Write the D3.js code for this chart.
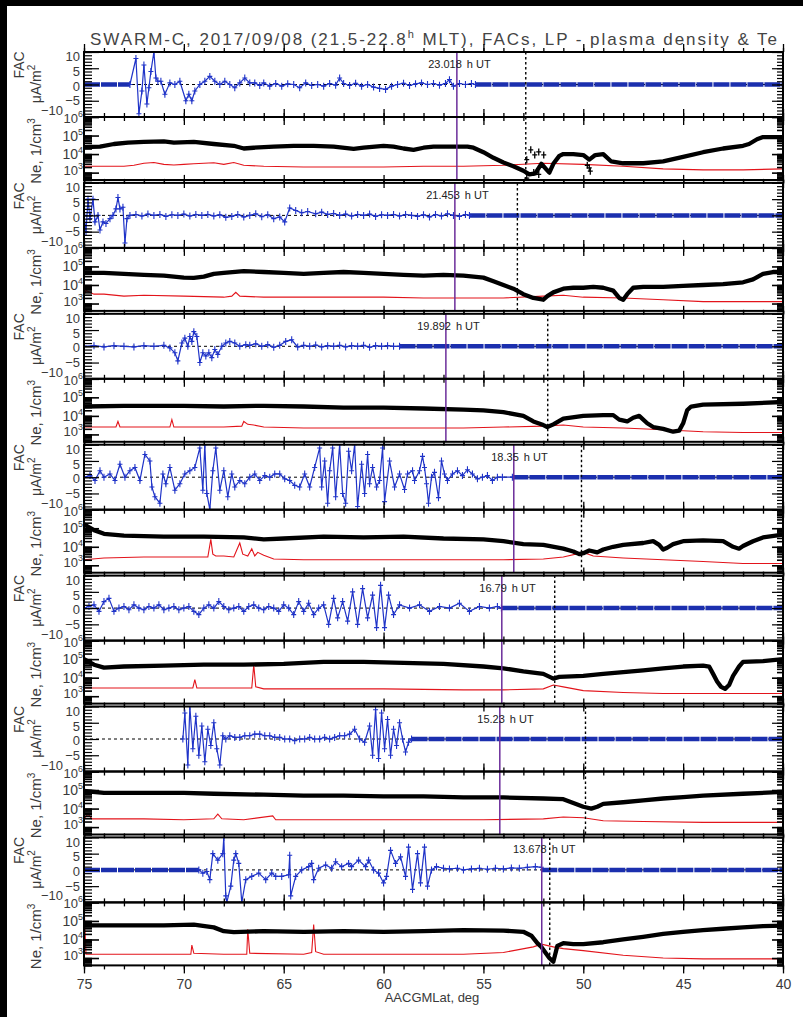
<!DOCTYPE html>
<html><head><meta charset="utf-8">
<script src="https://cdn.jsdelivr.net/npm/d3@7"></script>
<style>body{margin:0;background:#fff}svg{display:block}</style>
</head><body>
<svg id="c" width="803" height="1017"></svg>
<script>
// ---------- data ----------
const utLabels = ["23.018","21.453","19.892","18.35","16.79","15.23","13.678"];
const purpleLat = [56.33,56.43,56.88,53.48,54.08,54.18,52.08];
const dottedLat = [52.88,53.3,51.78,50.09,51.43,49.89,51.68];
const latTicks = [75,70,65,60,55,50,45,40];
const facTickLabels = [10,5,0,-5,-10];
const neTickLabels = [1e3,1e4,1e5,1e6];

const fac1 = [[72.7,0],[72.4,8],[72.25,-9],[72.1,-2],[72.0,6],[71.85,-6],[71.75,-1],[71.65,4],[71.5,10],[71.4,2],[71.3,1],[71.15,1],[70.95,-3],[70.7,0.5],[70.45,0],[70.2,1],[69.9,-5],[69.75,-3],[69.6,-5],[69.45,-2],[69.2,0],[68.95,1],[68.7,2.5],[68.45,1],[68.2,0],[67.95,1],[67.7,0],[67.45,-1],[67.2,0.5],[66.95,2],[66.7,0.5],[66.45,0.5],[66.2,-0.3],[66,0.5],[65.7,-0.5],[65.4,0.3],[65.1,-0.5],[64.8,0.2],[64.5,0],[64.2,-1],[63.9,0.5],[63.6,-0.3],[63.3,0],[63,-0.5],[62.7,0.3],[62.4,-0.2],[62.2,2],[62,0.3],[61.7,-0.3],[61.4,0.4],[61.1,-0.5],[60.8,0],[60.5,-0.8],[60.2,-1.2],[59.9,-1.5],[59.6,-0.5],[59.3,0],[59,0.4],[58.7,-0.3],[58.4,0.2],[58.1,0.5],[57.8,0],[57.5,0.3],[57.2,-0.2],[56.9,0.3],[56.7,1.5],[56.5,-0.5],[56.2,0.3],[55.9,0],[55.6,0.3],[55.4,0]];
const fac2 = [[75,0],[74.9,-5],[74.8,5],[74.7,-1],[74.55,5],[74.45,-2],[74.3,0],[74.2,-4.5],[74.05,-2],[73.9,-2.5],[73.7,-1],[73.55,0],[73.4,2],[73.3,5.5],[73.2,2],[73.05,2.5],[72.95,-8.5],[72.85,-1],[72.7,0],[72.4,0.3],[72.1,-0.2],[71.8,0.4],[71.5,0],[71.2,0.3],[70.9,-0.3],[70.6,0.2],[70.3,0],[70,0.4],[69.7,-0.2],[69.4,0.3],[69.1,0],[68.8,0.3],[68.5,-0.2],[68.2,0.2],[67.9,-0.6],[67.6,-0.3],[67.3,0.3],[67,-0.5],[66.7,0],[66.4,0.5],[66.1,-0.4],[65.8,0.2],[65.5,-1],[65.2,-0.5],[64.95,-2],[64.7,2.3],[64.4,1.5],[64.1,0.8],[63.8,1.2],[63.4,0.5],[63.1,1],[62.8,0.3],[62.5,0.6],[62.2,0],[61.9,0.4],[61.6,-0.2],[61.3,0.3],[61,0],[60.7,0.4],[60.4,-0.3],[60.1,0.2],[59.8,0],[59.5,0.3],[59.2,-0.2],[58.9,0.3],[58.6,0],[58.3,-0.3],[58,0.2],[57.7,-0.5],[57.4,0.3],[57.1,-0.2],[56.8,0.5],[56.5,0],[56.2,-0.3],[55.9,0.3],[55.7,0]];
const fac3 = [[75,0],[74.5,0.2],[74,-0.2],[73.5,0.2],[73,0],[72.5,-0.2],[72,0.2],[71.5,0],[71,0.3],[70.7,-0.5],[70.45,-2],[70.3,-4.5],[70.1,1],[69.95,2.5],[69.8,0],[69.7,3],[69.6,1.5],[69.5,4.5],[69.35,3],[69.2,-5],[69.05,-2],[68.9,-3],[68.75,-2],[68.6,-3.5],[68.45,-1],[68.3,-2.5],[68.1,0],[67.9,1],[67.7,1.5],[67.45,1],[67.2,0],[66.9,0.5],[66.7,0.3],[66.4,0.8],[66.1,0],[65.8,0.5],[65.5,-0.3],[65.2,0.3],[64.9,1.5],[64.6,2],[64.3,-0.2],[64,0.3],[63.7,0],[63.4,0.4],[63.1,-0.2],[62.8,0.2],[62.5,0],[62.2,0.3],[61.9,-0.2],[61.6,0.2],[61.3,0],[61,0.3],[60.7,-0.3],[60.4,0.2],[60.1,0],[59.8,0.2],[59.5,0],[59.2,0]];
const fac4 = [[75,0],[74.7,0.5],[74.45,-1],[74.2,2],[74.0,0],[73.7,1],[73.45,-1],[73.2,4],[72.95,0],[72.7,2],[72.45,3],[72.2,-1],[71.95,7],[71.7,5],[71.6,-3],[71.45,-6],[71.2,-8],[71.05,1],[70.9,-2],[70.7,3],[70.45,-4],[70.2,-2],[69.95,1],[69.7,2],[69.45,3],[69.2,9],[69.05,-4],[68.95,10],[68.85,-5],[68.7,-10],[68.55,2],[68.4,9],[68.2,-4],[68.0,2],[67.8,-6],[67.6,1],[67.45,-3],[67.2,-1],[66.95,-2],[66.7,0],[66.45,1],[66.2,-1],[65.95,0.5],[65.7,0],[65.45,1],[65.2,1],[64.95,-0.5],[64.7,-1],[64.45,-2.5],[64.2,-3],[63.95,1],[63.7,-3],[63.45,3],[63.2,9],[63.1,-3],[62.95,5],[62.8,-8],[62.7,2],[62.55,9],[62.4,-6],[62.2,10],[62.05,-5],[61.9,-8],[61.75,8],[61.6,2],[61.45,10],[61.3,-9],[61.1,4],[60.95,-5],[60.8,7],[60.7,-2],[60.55,3],[60.35,-3],[60.2,-1],[60.05,9],[59.95,-7.5],[59.7,5],[59.45,-3],[59.2,1],[58.95,-3.8],[58.8,1],[58.55,2],[58.45,-1],[58.2,2],[58.05,6.4],[57.95,3],[57.85,-2],[57.75,-8],[57.6,0],[57.45,1.5],[57.25,-6.3],[57.1,5],[56.95,1],[56.8,-1],[56.55,1],[56.3,2],[56.05,0.5],[55.8,2.3],[55.55,1],[55.3,-0.5],[55.05,0],[54.8,0.5],[54.55,-1],[54.3,0],[54.05,0],[53.55,0]];
const fac5 = [[75,0],[74.75,0.5],[74.5,1],[74.25,-1],[74,2],[73.75,3],[73.5,-1],[73.25,0],[73,0.5],[72.75,-0.5],[72.5,1],[72.25,0],[72,-0.5],[71.75,0.5],[71.5,0],[71.25,1],[71,-0.5],[70.75,0],[70.5,0.5],[70.25,-0.5],[70,0],[69.75,0.5],[69.5,-1],[69.25,-2],[69,0],[68.75,1],[68.5,0],[68.25,2],[68,0.5],[67.75,-0.5],[67.5,0],[67.25,0.5],[67,-1],[66.75,0.5],[66.5,1],[66.25,0],[66,-0.5],[65.75,0.5],[65.5,0],[65.25,-1],[65,1],[64.75,0],[64.5,-2],[64.25,2],[64,-1],[63.75,1.5],[63.5,-2],[63.25,0],[63,1],[62.75,-5],[62.5,3],[62.3,-3],[62.05,2],[61.8,-4],[61.55,5],[61.3,-5],[61.05,6],[60.8,-3],[60.55,4],[60.35,-6],[60.15,7],[59.95,-6],[59.75,4],[59.5,-2],[59.2,1],[58.7,0],[58.2,1],[57.7,-1],[57.2,0.5],[56.7,0],[56.2,1.5],[55.7,-1],[55.2,0.5],[54.7,0],[54.3,0.5],[54.1,0]];
const fac6 = [[70.05,0],[69.95,8],[69.8,-8],[69.7,10],[69.55,-3],[69.4,7],[69.25,-5],[69.1,4],[68.95,-7],[68.8,3],[68.65,-2],[68.5,5],[68.35,-3],[68.2,-8],[68.05,1],[67.9,0],[67.7,1],[67.45,0.5],[67.2,0.5],[66.95,1],[66.7,1],[66.45,1.5],[66.2,1.5],[65.95,1],[65.7,1],[65.45,0.5],[65.2,0.5],[64.95,0],[64.7,0],[64.45,-0.5],[64.2,0],[63.95,0],[63.7,0.5],[63.45,0],[63.2,0],[62.95,0.5],[62.7,0],[62.45,0.5],[62.2,1],[61.95,1],[61.7,1.5],[61.45,3],[61.2,0],[60.95,-1],[60.7,4],[60.55,-5],[60.4,9],[60.25,-6],[60.1,8],[59.95,-3],[59.8,6],[59.65,-5],[59.5,3],[59.35,-2],[59.2,5],[59.05,0],[58.9,-4],[58.75,-1],[58.6,0]];
const fac7 = [[69.25,0],[69.05,-1],[68.85,-0.5],[68.7,-3],[68.55,5],[68.3,3],[68.05,5],[68.0,10],[67.9,-8],[67.85,-10],[67.65,-5],[67.5,3],[67.4,5],[67.25,2],[67.1,-10],[66.9,-3],[66.6,-2],[66.25,-1],[65.9,-3],[65.6,-1],[65.4,-2],[65.1,-2],[64.75,-1.5],[64.7,4.5],[64.65,-8],[64.4,-2],[64.1,0],[63.75,1],[63.6,2],[63.5,-3],[63.25,0.5],[62.9,1.5],[62.6,0.5],[62.4,2.5],[62.1,1],[61.75,2],[61.6,1],[61.25,3],[60.9,1],[60.75,3],[60.5,0],[60.25,-1],[60.0,-4],[59.85,-2],[59.65,6],[59.4,2],[59.15,4],[58.9,-2],[58.75,7],[58.55,-6],[58.3,5],[58.15,-4],[57.95,7],[57.8,-5],[57.6,0],[57.35,1],[57,0.5],[56.7,0.3],[56.3,0.5],[56,0],[55.6,0.3],[55.2,0.5],[54.8,0.2],[54.4,0.5],[54,0.3],[53.6,0.6],[53.2,0.5],[52.8,0.8],[52.4,1],[52.1,0.8]];

// latitude spans where FAC is flat zero (dense blue band)
const zero1 = [[75,72.7],[55.4,40]];
const zero2 = [[55.7,40]];
const zero3 = [[59.2,40]];
const zero4 = [[53.55,40]];
const zero5 = [[54.1,40]];
const zero6 = [[58.6,40]];
const zero7 = [[75,69.25],[52.1,40]];

const ne1 = [[75,2.4e4],[74.2,2.5e4],[73.5,3.5e4],[72.8,4.2e4],[72,4.6e4],[71,4.8e4],[70.5,4.2e4],[69.5,4.5e4],[68.5,3.5e4],[67.5,2.8e4],[67,2.0e4],[66.5,2.2e4],[65.5,2.5e4],[64.5,2.8e4],[63.5,2.8e4],[62.5,2.5e4],[61.5,1.9e4],[61,2.2e4],[60,2.8e4],[59.5,2.5e4],[59,2.0e4],[58.5,1.7e4],[58,2.2e4],[57.5,2.5e4],[56.5,2.5e4],[55.8,2.5e4],[55.5,2.2e4],[55,1.26e4],[54.5,6300],[54,3500],[53.5,2200],[53,1260],[52.7,800],[52.4,900],[52.1,3000],[51.85,1500],[51.7,1000],[51.5,3000],[51.2,8000],[51,1.0e4],[50.5,1.0e4],[50,8900],[49.7,5000],[49.4,8900],[49,1.0e4],[48.6,4000],[48,3200],[47,3200],[46,4000],[45,7100],[44,1.26e4],[43,2.0e4],[42,2.8e4],[41.7,3.5e4],[41.3,6.3e4],[41,8.3e4],[40,8.3e4]];
const ne2 = [[75,4.5e4],[74,4.5e4],[73,4.0e4],[72,3.5e4],[71,3.2e4],[70,2.5e4],[69.5,2.4e4],[69,2.8e4],[68.5,4.0e4],[68,4.5e4],[67,5.6e4],[66,5.0e4],[65,4.5e4],[64,4.0e4],[63,4.5e4],[62,5.0e4],[61,4.5e4],[60,4.0e4],[59,3.5e4],[58,3.2e4],[57,3.5e4],[56,3.2e4],[55,2.5e4],[54.5,1.6e4],[54,1.0e4],[53.5,6300],[53,3200],[52.5,2000],[52,1600],[51.8,2500],[51.5,4000],[51,6300],[50.5,7100],[50,7100],[49.5,7900],[49,7100],[48.5,5000],[48.2,2000],[48,1600],[47.8,3200],[47.5,7100],[47,7900],[46,7900],[45,8900],[44,1.0e4],[43,1.1e4],[42,1.4e4],[41.5,2.0e4],[41,4.0e4],[40.5,5.0e4],[40,5.0e4]];
const ne3 = [[75,3.2e4],[73,3.5e4],[70,3.5e4],[68,3.2e4],[66,3.5e4],[64,3.2e4],[62,2.8e4],[60,2.8e4],[58,2.5e4],[56,2.2e4],[55,2.0e4],[54,1.6e4],[53,1.0e4],[52.5,5000],[52,3200],[51.8,2500],[51.5,3500],[51,7100],[50,1.0e4],[49,1.1e4],[48.5,1.1e4],[48.2,6300],[47.8,5000],[47.5,7900],[47.2,1.0e4],[46.8,4000],[46.5,2500],[46,2000],[45.5,1400],[45.2,1600],[45,4000],[44.8,2.0e4],[44.6,3.2e4],[44,4.0e4],[42,4.5e4],[40,5.6e4]];
const ne4 = [[75,1.6e5],[74.5,7.9e4],[74,5.0e4],[73,4.0e4],[71,3.5e4],[69,3.5e4],[67,3.2e4],[66,2.5e4],[65,2.8e4],[63,3.5e4],[61,3.2e4],[59,3.5e4],[57,2.8e4],[55,2.5e4],[54,2.0e4],[53,1.4e4],[52,1.26e4],[51,7900],[50.5,5600],[50.2,4000],[50,4500],[49.7,6300],[49.3,5000],[49,7100],[48.5,1.0e4],[48,1.26e4],[47,1.6e4],[46.5,2.0e4],[46.2,1.26e4],[46,7100],[45.8,8900],[45.5,1.4e4],[45,2.0e4],[44,2.2e4],[43,2.0e4],[42.5,1.0e4],[42.2,7900],[42,1.1e4],[41.5,2.0e4],[41,3.2e4],[40,4.5e4]];
const ne5 = [[75,1.0e5],[74.5,5.0e4],[74,3.5e4],[73,4.0e4],[71,4.5e4],[69,5.0e4],[67,5.0e4],[65,5.6e4],[63,7.1e4],[61,7.1e4],[59,6.3e4],[57,5.6e4],[55,4.0e4],[54,3.2e4],[53,2.2e4],[52,1.6e4],[51.5,8900],[51.2,1.1e4],[50,1.26e4],[49,1.6e4],[48,2.0e4],[47,2.5e4],[46,3.2e4],[45,4.0e4],[44,4.5e4],[43.7,4.0e4],[43.5,1.6e4],[43.3,6300],[43.1,3200],[42.9,2500],[42.7,4000],[42.5,1.26e4],[42.2,4.0e4],[42,7.1e4],[41,7.9e4],[40,1.0e5]];
const ne6 = [[75,8.9e4],[74,7.1e4],[72,7.1e4],[70,7.1e4],[68.5,6.3e4],[66,5.6e4],[64,5.0e4],[62,5.0e4],[60,4.5e4],[58,4.5e4],[56,4.0e4],[54,4.0e4],[52,3.5e4],[51,3.2e4],[50.5,2.0e4],[50,1.26e4],[49.6,1.0e4],[49.3,1.26e4],[49,1.8e4],[48,2.2e4],[47,2.8e4],[46,3.5e4],[45,4.2e4],[44,5.0e4],[42,6.3e4],[40,7.9e4]];
const ne7 = [[75,5.8e4],[73,5.8e4],[71,5.8e4],[69.5,6.3e4],[68.5,4.5e4],[68,2.8e4],[67.5,2.5e4],[66,2.8e4],[64,2.6e4],[62,2.8e4],[60,2.6e4],[58,2.8e4],[56,3.2e4],[54,3.0e4],[53,2.6e4],[52.6,1.6e4],[52.3,6300],[52.1,4000],[52,2800],[51.7,1000],[51.5,630],[51.3,4500],[51,6300],[50.5,5600],[50,5600],[49,7100],[48,1.0e4],[47,1.4e4],[46,2.0e4],[45,2.6e4],[44,3.2e4],[43,3.8e4],[42,4.5e4],[41,5.2e4],[40,5.6e4]];
const neScatter1 = [[52.63,1.7e4],[52.43,9000],[52.23,1.3e4],[51.98,9000],[52.83,5000],[52.48,1000],[52.23,800],[52.83,500],[49.8,2500],[49.7,1800],[49.65,1200]];

const te1 = [[75,2200],[73,2200],[72.5,2500],[72,3200],[71.5,3500],[71,2800],[70.5,2600],[70,2800],[69.5,3000],[69,3200],[68.5,3400],[68,2800],[67.5,3500],[67,2500],[66,2200],[64,2000],[62,2000],[60,2000],[58,2200],[56,2200],[54,2500],[52,3200],[50,2800],[48,2200],[46,1600],[44,1400],[42,1400],[40,1600]];
const te2 = [[75,2800],[74.9,5000],[74.5,3200],[74,3200],[73,2500],[72,2800],[70,2500],[68,2200],[67.6,2500],[67.4,4000],[67.2,2500],[66,2200],[64,2200],[62,2200],[60,2200],[58,2000],[56,2000],[54,2000],[52,2500],[51,2800],[50,2200],[48,2000],[46,1600],[44,1260],[42,1260],[40,1260]];
const te3 = [[75,2500],[74,2500],[73.4,2500],[73.3,5000],[73.2,2500],[72,2500],[70.7,2500],[70.6,6300],[70.5,2500],[70,2500],[68,2500],[67.1,2800],[67,5000],[66.8,3500],[66.5,3200],[66,2500],[64,2200],[62,2200],[60,2200],[58,2200],[56,2200],[54,2500],[52,2800],[51,3200],[50,2500],[48,2200],[46,1800],[44,1400],[42,1260],[40,1260]];
const te4 = [[75,2000],[74,2500],[72,2800],[70,2800],[68.8,2800],[68.65,2.5e4],[68.55,4000],[68.4,3200],[68,3200],[67.5,2800],[67.2,1.6e4],[67.05,4000],[66.8,3200],[66.6,7900],[66.45,3200],[66.3,5000],[66,3500],[65.5,2200],[64,2000],[60,2000],[56,2000],[54,2000],[52,2200],[51,2800],[50,5000],[49.5,3200],[48,2500],[46,2000],[44,1600],[42,1260],[40,1260]];
const te5 = [[75,2800],[72,2800],[70,2800],[69.55,2800],[69.45,7900],[69.35,2800],[66.6,2800],[66.5,5.0e4],[66.4,3200],[66,2500],[64,2500],[60,2500],[56,2200],[54,2200],[52,2500],[51.5,4000],[51,3200],[50,2000],[48,1600],[46,1400],[44,1400],[42,1400],[40,1400]];
const te6 = [[75,2800],[74.8,5000],[74.6,2800],[72,2800],[70,2500],[68.5,2800],[68.3,5000],[68.1,2800],[67,2500],[65.55,4000],[65.4,2500],[62,2500],[58,2500],[55,2500],[52,2800],[51,3500],[50,3200],[49,2200],[47,2000],[44,1800],[40,1800]];
const te7 = [[75,7.9e5],[74.9,1600],[74,1600],[72,1600],[70,1600],[69.65,1600],[69.6,5000],[69.5,1800],[68,1600],[66.85,1600],[66.8,3.5e4],[66.7,1800],[64,1600],[63.6,2000],[63.5,6.3e4],[63.4,2200],[63,1600],[60,1600],[56,1600],[54,2000],[52.5,4000],[52.1,5600],[51.5,4000],[51,3200],[50,2500],[48,1400],[46,1000],[44,900],[42,900],[40,900]];

const facAll = [fac1,fac2,fac3,fac4,fac5,fac6,fac7];
const zeroAll = [zero1,zero2,zero3,zero4,zero5,zero6,zero7];
const neAll = [ne1,ne2,ne3,ne4,ne5,ne6,ne7];
const teAll = [te1,te2,te3,te4,te5,te6,te7];
const scatterAll = [neScatter1,[],[],[],[],[],[]];

// ---------- drawing ----------
const W = 803, H = 1017;
const L = 84, R = 783, TOP0 = 52, PAIR = 130.9, FH = 65, NH = 63;
const FONT = "'Liberation Sans', Arial, sans-serif";
const BLUE = "#1f33c8", ZBLUE = "#1b2fae", RED = "#e3141b", PURPLE = "#6b2d9a", TXT = "#3a3a3a";

const svg = d3.select("#c");
svg.append("rect").attr("width", W).attr("height", H).attr("fill", "#fff");
svg.append("rect").attr("x", 0).attr("y", 0).attr("width", W).attr("height", 6).attr("fill", "#000");
svg.append("rect").attr("x", 0).attr("y", 0).attr("width", 7).attr("height", H).attr("fill", "#000");
const defs = svg.append("defs");

const x = d3.scaleLinear().domain([75, 40]).range([L, R]);

// title
const title = svg.append("text").attr("x", 90).attr("y", 45)
  .attr("font-family", FONT).attr("font-size", 17).attr("fill", "#444")
  .attr("textLength", 687).attr("lengthAdjust", "spacing");
title.append("tspan").text("SWARM-C, 2017/09/08 (21.5-22.8");
title.append("tspan").attr("font-size", 11).attr("dy", -7).text("h");
title.append("tspan").attr("dy", 7).text(" MLT), FACs, LP - plasma density & Te");

const plus = "M-2.5,0H2.5M0,-3.5V3.5";
const minorLat = d3.range(40, 76, 1);

function xTicks(g, y, dir) {
  const mk = () => (dir > 0 ? d3.axisBottom(x) : d3.axisTop(x)).tickFormat("").tickSizeOuter(0);
  g.append("g").attr("transform", `translate(0,${y})`)
    .call(mk().tickValues(minorLat).tickSizeInner(-4))
    .call(s => s.select(".domain").remove())
    .call(s => s.selectAll("line").attr("stroke", "#000").attr("stroke-width", 1.3));
  g.append("g").attr("transform", `translate(0,${y})`)
    .call(mk().tickValues(latTicks).tickSizeInner(-8))
    .call(s => s.select(".domain").remove())
    .call(s => s.selectAll("line").attr("stroke", "#000").attr("stroke-width", 1.3));
}

for (let i = 0; i < 7; i++) {
  const top = TOP0 + i * PAIR;
  const fb = top + FH, nb = top + FH + NH;
  const yF = d3.scaleLinear().domain([-10, 10]).range([fb, top]);
  const yN = d3.scaleLog().domain([400, 1e6]).range([nb, fb]);
  const g = svg.append("g");

  defs.append("clipPath").attr("id", "cf" + i).append("rect")
    .attr("x", L).attr("y", top).attr("width", R - L).attr("height", FH);
  defs.append("clipPath").attr("id", "cn" + i).append("rect")
    .attr("x", L).attr("y", fb).attr("width", R - L).attr("height", NH);

  // ---- FAC panel ----
  const gf = g.append("g").attr("clip-path", `url(#cf${i})`);
  gf.append("line").attr("x1", L).attr("x2", R).attr("y1", yF(0)).attr("y2", yF(0))
    .attr("stroke", "#000").attr("stroke-width", 1).attr("stroke-dasharray", "3,3");
  zeroAll[i].forEach(z => {
    gf.append("line").attr("x1", x(z[0])).attr("x2", x(z[1])).attr("y1", yF(0)).attr("y2", yF(0))
      .attr("stroke", ZBLUE).attr("stroke-width", 4.5).attr("stroke-dasharray", "16,1");
  });
  const fline = d3.line().x(d => x(d[0])).y(d => yF(d[1]));
  gf.append("path").datum(facAll[i]).attr("d", fline).attr("fill", "none")
    .attr("stroke", BLUE).attr("stroke-width", 1.2);
  gf.selectAll("path.pm").data(facAll[i]).join("path").attr("class", "pm")
    .attr("transform", d => `translate(${x(d[0])},${yF(d[1])})`)
    .attr("d", plus).attr("stroke", BLUE).attr("stroke-width", 1.1).attr("fill", "none");

  // ---- Ne panel ----
  const gn = g.append("g").attr("clip-path", `url(#cn${i})`);
  const nline = d3.line().x(d => x(d[0])).y(d => yN(d[1]));
  gn.append("path").datum(teAll[i]).attr("d", nline).attr("fill", "none")
    .attr("stroke", RED).attr("stroke-width", 1.1);
  gn.append("path").datum(neAll[i]).attr("d", nline).attr("fill", "none")
    .attr("stroke", "#000").attr("stroke-width", 4.3).attr("stroke-linejoin", "round");
  gn.selectAll("path.sc").data(scatterAll[i]).join("path").attr("class", "sc")
    .attr("transform", d => `translate(${x(d[0])},${yN(d[1])})`)
    .attr("d", plus).attr("stroke", "#000").attr("stroke-width", 1.3).attr("fill", "none");

  // ---- vertical markers ----
  g.append("line").attr("x1", x(dottedLat[i])).attr("x2", x(dottedLat[i]))
    .attr("y1", top).attr("y2", nb).attr("stroke", "#000").attr("stroke-width", 1.4)
    .attr("stroke-dasharray", "2.5,2.5");
  g.append("line").attr("x1", x(purpleLat[i])).attr("x2", x(purpleLat[i]))
    .attr("y1", top).attr("y2", nb).attr("stroke", PURPLE).attr("stroke-width", 1.5);

  // UT label
  const px = x(purpleLat[i]);
  g.append("text").attr("x", px + 5).attr("y", top + 16).attr("text-anchor", "end")
    .attr("font-family", FONT).attr("font-size", 11).attr("fill", "#222").text(utLabels[i]);
  g.append("text").attr("x", px + 10).attr("y", top + 16)
    .attr("font-family", FONT).attr("font-size", 11).attr("fill", "#222").text("h UT");

  // ---- frames ----
  g.append("rect").attr("x", L).attr("y", top).attr("width", R - L).attr("height", FH)
    .attr("fill", "none").attr("stroke", "#000").attr("stroke-width", 2);
  g.append("rect").attr("x", L).attr("y", fb).attr("width", R - L).attr("height", NH)
    .attr("fill", "none").attr("stroke", "#000").attr("stroke-width", 2);

  xTicks(g, top, 1);
  xTicks(g, fb, -1);
  xTicks(g, fb, 1);
  xTicks(g, nb, -1);

  // FAC y ticks
  const styleT = s => { s.select(".domain").remove(); s.selectAll("line").attr("stroke", "#000").attr("stroke-width", 1.2); };
  g.append("g").attr("transform", `translate(${L},0)`)
    .call(d3.axisLeft(yF).tickValues(d3.range(-10, 11)).tickFormat("").tickSizeOuter(0).tickSizeInner(-8)).call(styleT);
  g.append("g").attr("transform", `translate(${L},0)`)
    .call(d3.axisLeft(yF).tickValues(facTickLabels).tickFormat("").tickSizeOuter(0).tickSizeInner(-15)).call(styleT);
  g.append("g").attr("transform", `translate(${R},0)`)
    .call(d3.axisRight(yF).tickValues(d3.range(-10, 11)).tickFormat("").tickSizeOuter(0).tickSizeInner(-6)).call(styleT);
  g.append("g").attr("transform", `translate(${R},0)`)
    .call(d3.axisRight(yF).tickValues(facTickLabels).tickFormat("").tickSizeOuter(0).tickSizeInner(-11)).call(styleT);

  // Ne y ticks (log)
  const minorN = yN.ticks().filter(v => v >= 400 && v <= 1e6);
  const styleN = s => { s.select(".domain").remove(); s.selectAll("line").attr("stroke", "#000").attr("stroke-width", 1.6); };
  g.append("g").attr("transform", `translate(${L},0)`)
    .call(d3.axisLeft(yN).tickValues(minorN).tickFormat("").tickSizeOuter(0).tickSizeInner(-8)).call(styleN);
  g.append("g").attr("transform", `translate(${L},0)`)
    .call(d3.axisLeft(yN).tickValues(neTickLabels).tickFormat("").tickSizeOuter(0).tickSizeInner(-15)).call(styleN);
  g.append("g").attr("transform", `translate(${R},0)`)
    .call(d3.axisRight(yN).tickValues(minorN).tickFormat("").tickSizeOuter(0).tickSizeInner(-6)).call(styleN);
  g.append("g").attr("transform", `translate(${R},0)`)
    .call(d3.axisRight(yN).tickValues(neTickLabels).tickFormat("").tickSizeOuter(0).tickSizeInner(-11)).call(styleN);

  // FAC tick labels (baseline offsets from tick; -10 shifted left so it clears 10^6)
  const facBase = {10: 9.4, 5: 7.75, 0: 6.1, "-5": 4.55, "-10": -2};
  facTickLabels.forEach(v => {
    g.append("text").attr("x", v === -10 ? 63 : 80).attr("y", yF(v) + facBase[v])
      .attr("text-anchor", "end").attr("font-family", FONT)
      .attr("font-size", 13).attr("fill", TXT)
      .text(v < 0 ? "\u2212" + Math.abs(v) : String(v));
  });
  // Ne tick labels
  const neBase = {1000: 2, 10000: 5, 100000: 5, 1000000: 6};
  neTickLabels.forEach(v => {
    const t = g.append("text").attr("x", 83).attr("y", yN(v) + neBase[v])
      .attr("text-anchor", "end").attr("font-family", FONT)
      .attr("font-size", v === 1e6 || v === 1e3 ? 13 : 14).attr("fill", TXT);
    t.append("tspan").text("10");
    t.append("tspan").attr("font-size", 9).attr("dy", -6).text(String(Math.round(Math.log10(v))));
  });

  // axis titles
  g.append("text").attr("transform", `translate(24,${top + 13}) rotate(-90)`)
    .attr("text-anchor", "middle").attr("font-family", FONT).attr("font-size", 14).attr("fill", TXT).text("FAC");
  const ua = g.append("text").attr("transform", `translate(41,${top + 32}) rotate(-90)`)
    .attr("text-anchor", "middle").attr("font-family", FONT).attr("font-size", 14).attr("fill", TXT);
  ua.append("tspan").text("\u03bcA/m");
  ua.append("tspan").attr("font-size", 10).attr("dy", -6).text("2");
  const nt = g.append("text").attr("transform", `translate(41,${fb + 34}) rotate(-90)`)
    .attr("text-anchor", "middle").attr("font-family", FONT).attr("font-size", 15).attr("fill", TXT);
  nt.append("tspan").text("Ne, 1/cm");
  nt.append("tspan").attr("font-size", 10).attr("dy", -6).text("3");

  if (i === 6) {
    g.append("g").attr("transform", `translate(0,${nb})`)
      .call(d3.axisBottom(x).tickValues(latTicks).tickFormat(d3.format("d")).tickSize(0).tickPadding(14))
      .call(s => s.select(".domain").remove())
      .call(s => s.selectAll("text").attr("font-family", FONT).attr("font-size", 14).attr("fill", TXT));
  }
}

svg.append("text").attr("x", 432).attr("y", 1002).attr("text-anchor", "middle")
  .attr("font-family", FONT).attr("font-size", 13).attr("fill", TXT).text("AACGMLat, deg");
</script>
</body></html>
